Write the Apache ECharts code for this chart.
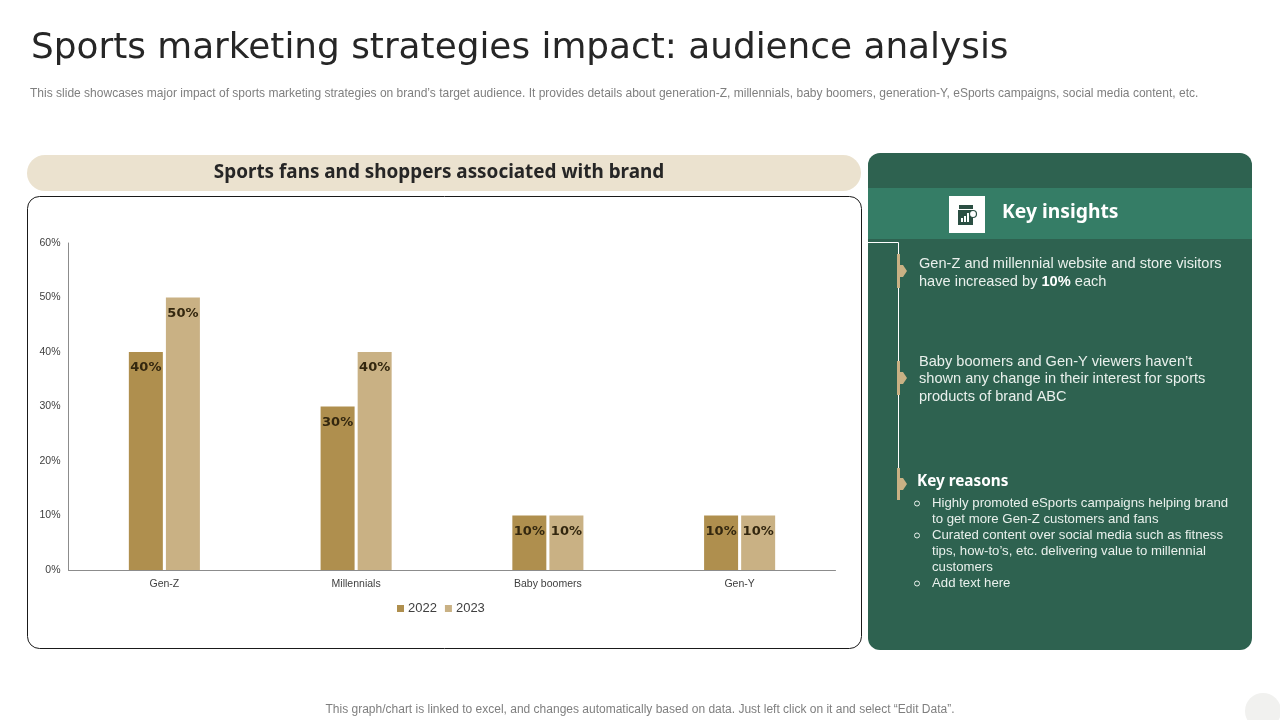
<!DOCTYPE html>
<html>
<head>
<meta charset="utf-8">
<title>Sports marketing strategies impact</title>
<style>
  html, body { margin: 0; padding: 0; background: #fff; }
  #main { width: 1280px; height: 720px; }
</style>
<script src="https://cdn.jsdelivr.net/npm/echarts@6/dist/echarts.min.js"></script>
</head>
<body>
<div id="main"></div>
<script>
var categories = ['Gen-Z', 'Millennials', 'Baby boomers', 'Gen-Y'];
var values2022 = [40, 30, 10, 10];
var values2023 = [50, 40, 10, 10];

var titleText = 'Sports marketing strategies impact: audience analysis';
var subtitleText = 'This slide showcases major impact of sports marketing strategies on brand\u2019s target audience. It provides details about generation-Z, millennials, baby boomers, generation-Y, eSports campaigns, social media content, etc.';
var chartHeading = 'Sports fans and shoppers associated with brand';
var footerText = 'This graph/chart is linked to excel, and changes automatically based on data. Just left click on it and select \u201cEdit Data\u201d.';
var insightOne = ['Gen-Z and millennial website and store visitors', 'have increased by {b|10%} each'];
var insightTwo = ['Baby boomers and Gen-Y viewers haven\u2019t', 'shown any change in their interest for sports', 'products of brand ABC'];
var reasonLines = [
    ['Highly promoted eSports campaigns helping brand', 'to get more Gen-Z customers and fans'],
    ['Curated content over social media such as fitness', 'tips, how-to\u2019s, etc. delivering value to millennial', 'customers'],
    ['Add text here']
];

var BODY = '"Liberation Sans", Arial, sans-serif';
var TITLE = '"DejaVu Sans", sans-serif';
var HEAD = '"Noto Sans", sans-serif';
var GREEN = '#2e6250';
var TAN = '#c9b184';
var PANEL_TEXT = '#e9f0ec';

function txt(x, y, text, font, fill, extra) {
    var style = { x: x, y: y, text: text, font: font, fill: fill, textVerticalAlign: 'middle' };
    for (var k in (extra || {})) { style[k] = extra[k]; }
    return { type: 'text', silent: true, style: style };
}
function box(x, y, w, h, fill, r) {
    return { type: 'rect', silent: true, shape: { x: x, y: y, width: w, height: h, r: r || 0 }, style: { fill: fill } };
}
// tan marker on the white timeline
function marker(y0, y1) {
    var mid = (y0 + y1) / 2;
    return [
        box(897, y0, 3, y1 - y0, TAN),
        { type: 'polygon', silent: true, shape: { points: [[899, mid - 6], [903, mid - 6], [907, mid], [903, mid + 6], [899, mid + 6]] }, style: { fill: TAN } }
    ];
}

var elements = [
    txt(31, 49, titleText, '35.85px ' + TITLE, '#262626'),
    txt(30, 94, subtitleText, '12.02px ' + BODY, '#7f7f7f'),

    box(27, 155, 834, 36, '#ebe2cf', 18),
    txt(439, 173, chartHeading, 'bold 18.9px ' + HEAD, '#262626', { textAlign: 'center' }),
    { type: 'rect', silent: true, shape: { x: 27.5, y: 196.5, width: 834, height: 452, r: 12 }, style: { fill: 'none', stroke: '#1a1a1a', lineWidth: 1 } },

    box(868, 153, 384, 497, GREEN, 12),
    box(868, 188, 384, 51, '#357d66'),
    box(949, 196, 36, 37, '#ffffff'),
    // report icon
    box(959, 205, 14, 4, '#2b4f43'),
    box(958, 210, 15, 15, '#2b4f43'),
    box(961, 218, 2, 4, '#ffffff'),
    box(964, 216, 2, 6, '#ffffff'),
    box(967, 213, 2, 9, '#ffffff'),
    { type: 'circle', silent: true, shape: { cx: 973, cy: 214, r: 3.5 }, style: { fill: '#ffffff', stroke: '#2b4f43', lineWidth: 1.2 } },
    txt(1002, 213, 'Key insights', 'bold 19.3px ' + HEAD, '#ffffff'),

    { type: 'polyline', silent: true, shape: { points: [[868, 242.5], [898.5, 242.5], [898.5, 470]] }, style: { fill: 'none', stroke: '#ffffff', lineWidth: 1 } }
];
elements = elements.concat(marker(254, 288), marker(361, 395), marker(468, 500));

insightOne.forEach(function (line, i) {
    elements.push(txt(919, 263.5 + i * 18, line, '14.6px ' + BODY, PANEL_TEXT, {
        rich: { b: { font: 'bold 14.6px ' + BODY, fill: '#ffffff' } }
    }));
});
insightTwo.forEach(function (line, i) {
    elements.push(txt(919, 361.5 + i * 17.5, line, '14.6px ' + BODY, PANEL_TEXT));
});

elements.push(txt(917, 481.5, 'Key reasons', 'bold 15.3px ' + HEAD, '#ffffff'));
var rowY = 503;
reasonLines.forEach(function (lines) {
    elements.push({ type: 'circle', silent: true, shape: { cx: 917, cy: rowY + 0.5, r: 2.5 }, style: { fill: 'none', stroke: PANEL_TEXT, lineWidth: 1 } });
    lines.forEach(function (line) {
        elements.push(txt(932, rowY, line, '13.2px ' + BODY, PANEL_TEXT));
        rowY += 16;
    });
});

elements.push(txt(640, 709.5, footerText, '12px ' + BODY, '#7f7f7f', { textAlign: 'center' }));
elements.push({ type: 'circle', silent: true, shape: { cx: 1263, cy: 711, r: 18 }, style: { fill: '#f1f1ef' } });

var barLabel = {
    show: true,
    position: 'insideTop',
    distance: 9.5,
    formatter: '{c}%',
    fontFamily: TITLE,
    fontWeight: 'bold',
    fontSize: 13,
    color: '#33270f'
};

var chart = echarts.init(document.getElementById('main'));
chart.setOption({
    animation: false,
    graphic: { elements: elements },
    legend: {
        left: 392,
        top: 597,
        itemWidth: 7,
        itemHeight: 7,
        itemGap: 8,
        icon: 'rect',
        textStyle: { fontFamily: BODY, fontSize: 13, color: '#404040', padding: [0, 0, 0, -1] },
        data: ['2022', '2023']
    },
    grid: { left: 68.5, right: 444.5, top: 243, bottom: 150 },
    xAxis: {
        type: 'category',
        data: categories,
        axisTick: { show: false },
        axisLine: { lineStyle: { color: '#8c8c8c', width: 1 } },
        axisLabel: { fontFamily: BODY, fontSize: 10.5, color: '#404040', margin: 9 }
    },
    yAxis: {
        type: 'value',
        min: 0,
        max: 60,
        interval: 10,
        axisLine: { show: true, lineStyle: { color: '#8c8c8c', width: 1 } },
        axisTick: { show: false },
        splitLine: { show: false },
        axisLabel: { formatter: '{value}%', fontFamily: BODY, fontSize: 10.5, color: '#404040', margin: 8, padding: [4, 0, 0, 0] }
    },
    series: [
        { name: '2022', type: 'bar', data: values2022, barWidth: 34, barGap: '9%', itemStyle: { color: '#af8f4e' }, label: barLabel },
        { name: '2023', type: 'bar', data: values2023, barWidth: 34, barGap: '9%', itemStyle: { color: TAN }, label: barLabel }
    ]
});
</script>
</body>
</html>
